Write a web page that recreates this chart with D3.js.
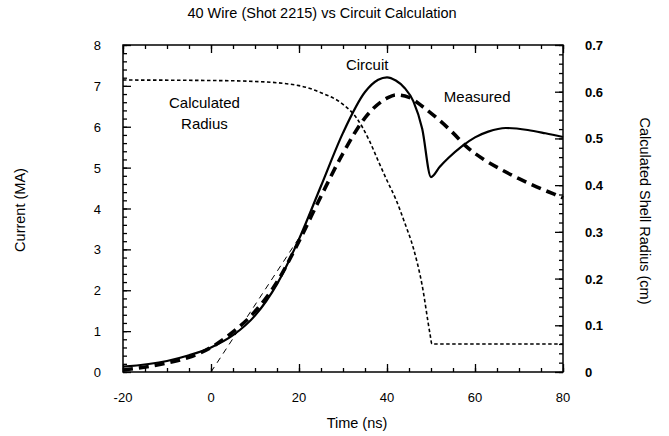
<!DOCTYPE html>
<html>
<head>
<meta charset="utf-8">
<script src="https://cdn.jsdelivr.net/npm/d3@7"></script>
<style>
  body { margin: 0; background: #fff; }
  svg { font-family: "Liberation Sans", Arial, sans-serif; }
</style>
</head>
<body>
<div class="chart"></div>
<script>
// time (ns), current (MA)
const circuitT = [-20, -10, -5, 0, 5, 10, 15, 20, 25, 30, 35, 38, 40, 42, 44, 46, 48, 50, 52, 54, 57, 60, 63, 67, 72, 76, 80];
const circuitI = [0.13, 0.27, 0.41, 0.6, 0.9, 1.38, 2.15, 3.25, 4.55, 5.85, 6.85, 7.15, 7.21, 7.13, 6.95, 6.62, 5.95, 4.77, 5.02, 5.24, 5.52, 5.74, 5.88, 5.97, 5.92, 5.84, 5.75];

const measuredT = [-20, -10, -5, 0, 5, 10, 15, 20, 25, 30, 35, 40, 42, 45, 48, 52, 55, 58, 62, 66, 70, 74, 78, 80];
const measuredI = [0.05, 0.22, 0.36, 0.6, 0.98, 1.48, 2.2, 3.2, 4.3, 5.35, 6.22, 6.7, 6.78, 6.72, 6.5, 6.15, 5.85, 5.52, 5.2, 4.95, 4.73, 4.53, 4.35, 4.26];

// calculated shell radius (cm)
const radiusT = [-20, 0, 10, 20, 25, 30, 33, 36, 38, 40, 42, 44, 46, 48, 49.8, 50.2, 80];
const radiusR = [0.625, 0.624, 0.622, 0.613, 0.598, 0.573, 0.545, 0.495, 0.452, 0.41, 0.37, 0.32, 0.265, 0.185, 0.08, 0.06, 0.06];

// tangent guide line
const guideT = [0, 20];
const guideI = [0, 3.28];

const xTicks = [-20, 0, 20, 40, 60, 80];
const yTicks = [0, 1, 2, 3, 4, 5, 6, 7, 8];
const rTicks = [0, 0.1, 0.2, 0.3, 0.4, 0.5, 0.6, 0.7];

const W = 669, H = 436;
const margin = {top: 45, right: 106, bottom: 64, left: 123};
const width = W - margin.left - margin.right,
      height = H - margin.top - margin.bottom;

const svg = d3.select(".chart").append("svg")
  .attr("width", W).attr("height", H);

const g = svg.append("g")
  .attr("transform", "translate(" + margin.left + "," + margin.top + ")");

const x = d3.scaleLinear().domain([-20, 80]).range([0, width]);
const y = d3.scaleLinear().domain([0, 8]).range([height, 0]);
const yR = d3.scaleLinear().domain([0, 0.7]).range([height, 0]);

// frame
g.append("rect").attr("width", width).attr("height", height)
  .attr("fill", "none").attr("stroke", "#000").attr("stroke-width", 1.5);

// inward ticks: minor and major
function ticks(axisFn, scale, values, size, transform) {
  g.append("g").attr("transform", transform || null)
    .call(axisFn(scale).tickValues(values).tickSize(-size).tickFormat(""))
    .call(a => a.select(".domain").remove())
    .call(a => a.selectAll("line").attr("stroke", "#000").attr("stroke-width", 1.3));
}
const minorX = d3.range(-20, 80.1, 5);
const minorY = d3.range(0, 8.01, 0.2);
const minorR = d3.range(0, 0.701, 0.02);

ticks(d3.axisBottom, x, minorX, 4, "translate(0," + height + ")");
ticks(d3.axisBottom, x, xTicks, 8, "translate(0," + height + ")");
ticks(d3.axisTop, x, minorX, 4);
ticks(d3.axisTop, x, xTicks, 8);
ticks(d3.axisLeft, y, minorY, 4);
ticks(d3.axisLeft, y, yTicks, 8);
ticks(d3.axisRight, yR, minorR, 4, "translate(" + width + ",0)");
ticks(d3.axisRight, yR, rTicks, 8, "translate(" + width + ",0)");

// tick labels
g.append("g").selectAll("text").data(xTicks).join("text")
  .attr("x", d => x(d)).attr("y", height + 30)
  .attr("text-anchor", "middle").attr("font-size", 13).text(d => d);
g.append("g").selectAll("text").data(yTicks).join("text")
  .attr("x", -22).attr("y", d => y(d) + 5)
  .attr("text-anchor", "end").attr("font-size", 13).text(d => d);
g.append("g").selectAll("text").data(rTicks).join("text")
  .attr("x", width + 22).attr("y", d => yR(d) + 5)
  .attr("text-anchor", "start").attr("font-size", 13).attr("font-weight", "bold")
  .text(d => d3.format(".1~f")(d));

// lines
const lineI = d3.line().x(d => x(d[0])).y(d => y(d[1])).curve(d3.curveMonotoneX);
const lineR = d3.line().x(d => x(d[0])).y(d => yR(d[1])).curve(d3.curveMonotoneX);

g.append("path").datum(d3.zip(guideT, guideI))
  .attr("d", d3.line().x(d => x(d[0])).y(d => y(d[1])))
  .attr("fill", "none").attr("stroke", "#000").attr("stroke-width", 1)
  .attr("stroke-dasharray", "6,5");

g.append("path").datum(d3.zip(radiusT, radiusR))
  .attr("d", lineR)
  .attr("fill", "none").attr("stroke", "#000").attr("stroke-width", 1.6)
  .attr("stroke-dasharray", "3.5,2.5");

g.append("path").datum(d3.zip(measuredT, measuredI))
  .attr("d", lineI)
  .attr("fill", "none").attr("stroke", "#000").attr("stroke-width", 3.6)
  .attr("stroke-dasharray", "10,6");

g.append("path").datum(d3.zip(circuitT, circuitI))
  .attr("d", lineI)
  .attr("fill", "none").attr("stroke", "#000").attr("stroke-width", 2.2);

// annotations
const ann = g.append("g").attr("font-size", 15).attr("text-anchor", "middle");
ann.append("text").attr("x", x(-1.5)).attr("y", y(6.45)).text("Calculated");
ann.append("text").attr("x", x(-1.5)).attr("y", y(5.95)).text("Radius");
ann.append("text").attr("x", x(35.5)).attr("y", y(7.4)).text("Circuit");
ann.append("text").attr("x", x(60.5)).attr("y", y(6.6)).text("Measured");

// titles
svg.append("text").attr("x", 322).attr("y", 18)
  .attr("text-anchor", "middle").attr("font-size", 14.5)
  .text("40 Wire (Shot 2215) vs Circuit Calculation");
svg.append("text").attr("x", 357).attr("y", 428)
  .attr("text-anchor", "middle").attr("font-size", 14.5).text("Time (ns)");
svg.append("text")
  .attr("transform", "translate(25,210) rotate(-90)")
  .attr("text-anchor", "middle").attr("font-size", 14.5).text("Current (MA)");
svg.append("text")
  .attr("transform", "translate(640,211) rotate(90)")
  .attr("text-anchor", "middle").attr("font-size", 14.5).text("Calculated Shell Radius (cm)");
</script>
</body>
</html>
